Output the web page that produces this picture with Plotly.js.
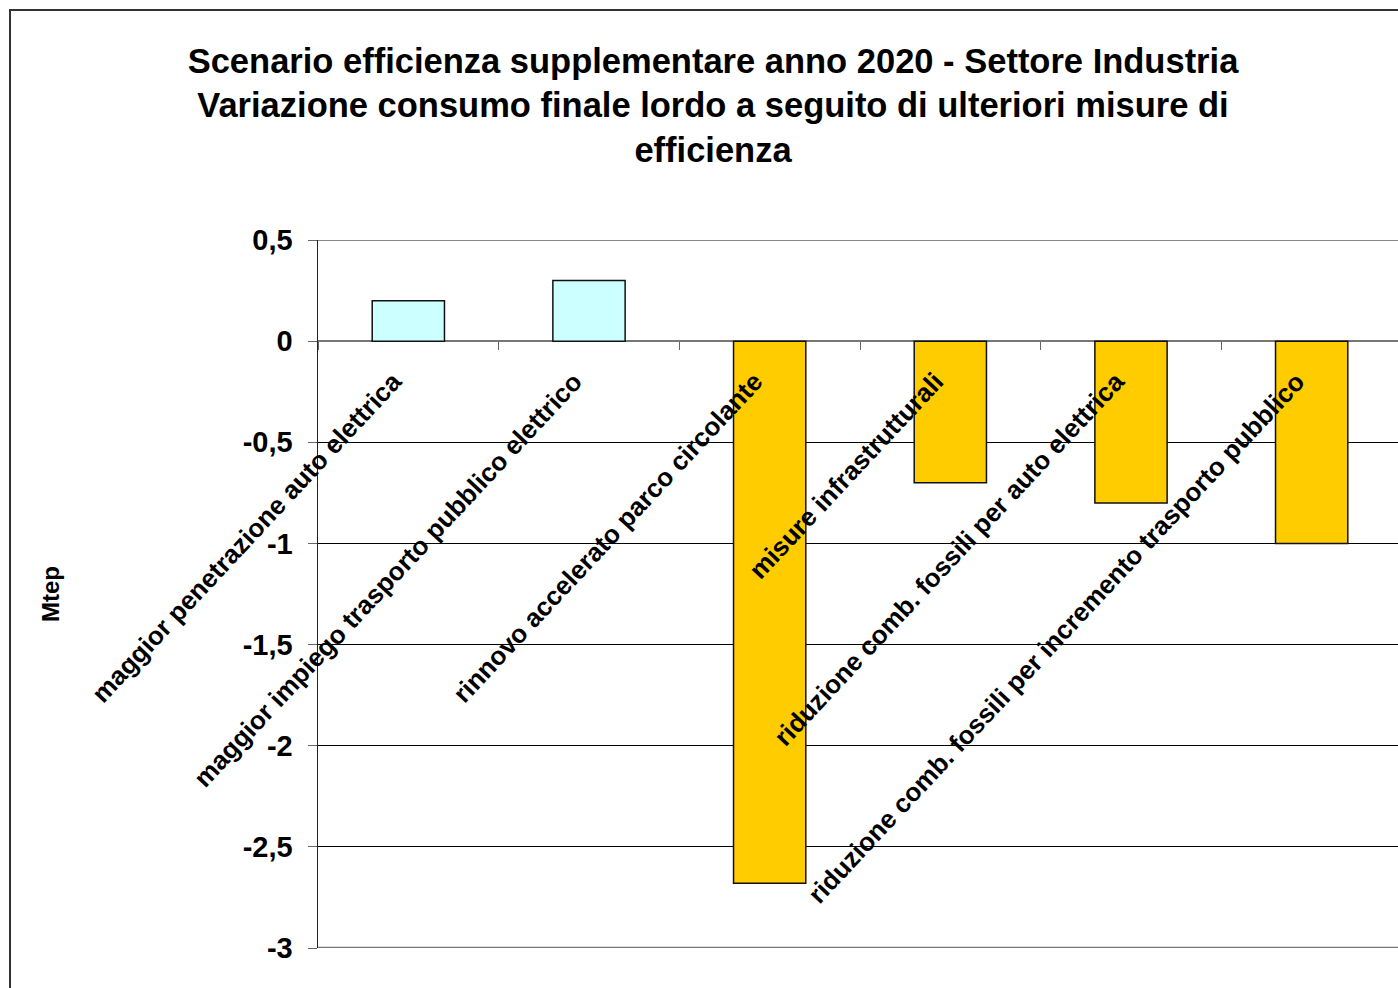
<!DOCTYPE html>
<html>
<head>
<meta charset="utf-8">
<script src="https://cdn.plot.ly/plotly-3.0.1.min.js"></script>
<style>
html,body{margin:0;padding:0;overflow:hidden;background:#fff;}
#wrap{position:relative;width:1398px;height:988px;overflow:hidden;}
#chart{position:absolute;left:0;top:0;width:1402px;height:988px;}
#frame{position:absolute;left:9px;top:9px;width:1420px;height:1020px;border:2px solid #333;pointer-events:none;box-sizing:border-box;}
</style>
</head>
<body>
<div id="wrap"><div id="chart"></div><div id="frame"></div></div>
<script>
const categories = [
  "maggior penetrazione auto elettrica",
  "maggior impiego trasporto pubblico elettrico",
  "rinnovo accelerato parco circolante",
  "misure infrastrutturali",
  "riduzione comb. fossili per auto elettrica",
  "riduzione comb. fossili per incremento trasporto pubblico"
];
const values = [0.2, 0.3, -2.68, -0.7, -0.8, -1.0];
const yTicks = [0.5, 0, -0.5, -1, -1.5, -2, -2.5, -3];
const titleText = "Scenario efficienza supplementare anno 2020 - Settore Industria<br>Variazione consumo finale lordo a seguito di ulteriori misure di<br>efficienza";

const font = "Liberation Sans, Arial, sans-serif";
const colors = values.map(v => v >= 0 ? "#CCFFFF" : "#FFCC00");

const trace = {
  type: "bar",
  x: categories,
  y: values,
  marker: {color: colors, line: {color: "#111", width: 1.5}},
  hoverinfo: "x+y"
};

const layout = {
  width: 1402, height: 988,
  margin: {l: 318, r: 0, t: 240, b: 40},
  paper_bgcolor: "#fff", plot_bgcolor: "#fff",
  separators: ",.",
  showlegend: false,
  bargap: 0.6,
  font: {family: font, color: "#000"},
  title: {
    text: "<b>" + titleText + "</b>",
    font: {family: font, size: 34.5, color: "#000"},
    xref: "container", x: 713/1402, xanchor: "center",
    yref: "container", y: 1 - 72.5/988, yanchor: "top"
  },
  xaxis: {
    type: "category",
    range: [-0.5, 5.5],
    anchor: "free", position: 3/3.5,
    showline: false,
    showgrid: false,
    zeroline: false,
    tickson: "boundaries",
    ticks: "outside", ticklen: 8, tickcolor: "#666", tickwidth: 1,
    tickangle: -47,
    ticklabelstandoff: 19,
    ticklabelshift: -15,
    tickfont: {family: font, size: 26, color: "#000", weight: "bold"},
    automargin: false
  },
  yaxis: {
    range: [-3, 0.5],
    tickvals: yTicks,
    ticktext: yTicks.map(v => String(v).replace(".", ",")),
    showgrid: true, gridcolor: "#000", gridwidth: 1,
    zeroline: true, zerolinecolor: "#777", zerolinewidth: 2,
    showline: true, linecolor: "#222", linewidth: 1.5,
    ticks: "outside", ticklen: 9, tickcolor: "#666",
    ticklabelstandoff: 9,
    tickfont: {family: font, size: 29, color: "#000", weight: "bold"},
    automargin: false
  },
  shapes: [
    {type: "line", xref: "paper", yref: "y", x0: 0, x1: 1, y0: 0.5, y1: 0.5, line: {color: "#888", width: 2}, layer: "below"},
    {type: "line", xref: "paper", yref: "y", x0: 0, x1: 1, y0: -3, y1: -3, line: {color: "#777", width: 2.5}, layer: "below"}
  ],
  annotations: [{
    text: "<b>Mtep</b>", textangle: -90,
    xref: "paper", yref: "paper", x: (50 - 318) / 1084, y: 0.5,
    xanchor: "center", yanchor: "middle", showarrow: false,
    font: {family: font, size: 24, color: "#000"}
  }]
};

Plotly.newPlot("chart", [trace], layout, {displayModeBar: false, staticPlot: true});
</script>
</body>
</html>
